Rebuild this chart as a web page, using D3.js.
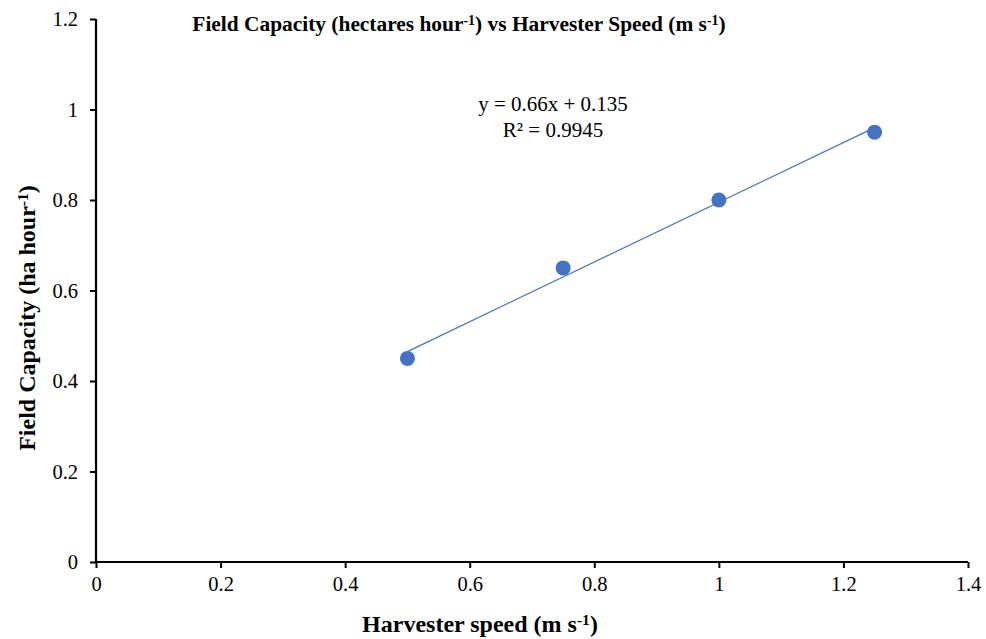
<!DOCTYPE html>
<html><head><meta charset="utf-8">
<script src="https://cdn.jsdelivr.net/npm/d3@7"></script>
<style>body{margin:0;background:#fff}svg{display:block}
svg text{font-family:"Liberation Serif","Times New Roman","DejaVu Serif",serif;}
</style>
</head><body>
<svg id="c" width="986" height="639"></svg>
<script>
const speeds = [0.5, 0.75, 1.0, 1.25];
const capacity = [0.45, 0.65, 0.80, 0.95];
const xTicks = [0, 0.2, 0.4, 0.6, 0.8, 1, 1.2, 1.4];
const yTicks = [0, 0.2, 0.4, 0.6, 0.8, 1, 1.2];
const slope = 0.66, intercept = 0.135, r2 = 0.9945;

const svg = d3.select("#c");
const x = d3.scaleLinear().domain([0, 1.4]).range([96, 968]);
const y = d3.scaleLinear().domain([0, 1.2]).range([562, 19]);
const color = "#4472C4";

const xAxis = svg.append("g").attr("transform", "translate(0,562)")
  .call(d3.axisBottom(x).tickValues(xTicks).tickSize(6).tickPadding(8).tickFormat(d => d3.format("")(+d.toFixed(1))));
const yAxis = svg.append("g").attr("transform", "translate(96,0)")
  .call(d3.axisLeft(y).tickValues(yTicks).tickSize(6).tickPadding(12).tickFormat(d => d3.format("")(+d.toFixed(1))));
[xAxis, yAxis].forEach(g => {
  g.attr("font-family", null);
  g.select(".domain").attr("stroke", "#000").attr("stroke-width", 2.2);
  g.selectAll(".tick line").attr("stroke", "#000").attr("stroke-width", 2);
  g.selectAll(".tick text").attr("font-size", 20.5).attr("fill", "#000");
});
xAxis.select(".domain").attr("d", "M96,0H968");
yAxis.select(".domain").attr("d", "M0,562V19");

// trendline
const xs = d3.extent(speeds);
svg.append("line")
  .attr("x1", x(xs[0])).attr("y1", y(slope * xs[0] + intercept))
  .attr("x2", x(xs[1])).attr("y2", y(slope * xs[1] + intercept))
  .attr("stroke", color).attr("stroke-width", 1.2);

svg.selectAll("circle.pt").data(speeds).enter().append("circle")
  .attr("class", "pt")
  .attr("cx", d => x(d)).attr("cy", (d, i) => y(capacity[i]))
  .attr("r", 7.5).attr("fill", color);

// equation
svg.append("text").attr("x", 553).attr("y", 111).attr("text-anchor", "middle")
  .attr("font-size", 21).text(`y = ${slope}x + ${intercept}`);
svg.append("text").attr("x", 553).attr("y", 137).attr("text-anchor", "middle")
  .attr("font-size", 21).text(`R² = ${r2}`);

function supText(sel, parts) {
  parts.forEach(p => {
    const t = sel.append("tspan").text(p[0]);
    if (p[1]) t.attr("font-size", "0.65em").attr("dy", "-0.45em");
    else if (p[2]) t.attr("dy", "0.29em");
  });
}
// title
const title = svg.append("text").attr("x", 459).attr("y", 31).attr("text-anchor", "middle")
  .attr("font-size", 21.4).attr("font-weight", "bold");
supText(title, [["Field Capacity (hectares hour"], ["-1", true], [") vs Harvester Speed (m s", false, true], ["-1", true], [")", false, true]]);

const xt = svg.append("text").attr("x", 480).attr("y", 632).attr("text-anchor", "middle")
  .attr("font-size", 24).attr("font-weight", "bold");
supText(xt, [["Harvester speed (m s"], ["-1", true], [")", false, true]]);

const yt = svg.append("text").attr("transform", "translate(35,318) rotate(-90)").attr("text-anchor", "middle")
  .attr("font-size", 24).attr("font-weight", "bold");
supText(yt, [["Field Capacity (ha hour"], ["-1", true], [")", false, true]]);
</script>
</body></html>
